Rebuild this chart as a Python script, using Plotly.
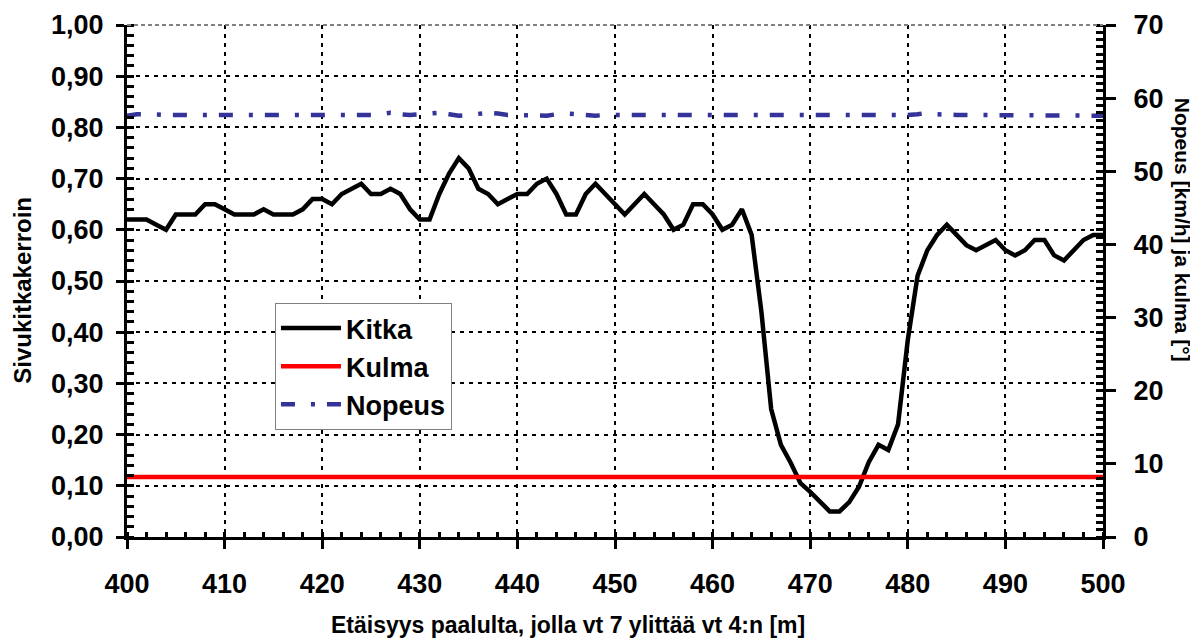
import plotly.graph_objects as go

distance = list(range(400, 501))

kitka = [0.62, 0.62, 0.62, 0.61, 0.60, 0.63, 0.63, 0.63, 0.65, 0.65,
         0.64, 0.63, 0.63, 0.63, 0.64, 0.63, 0.63, 0.63, 0.64, 0.66,
         0.66, 0.65, 0.67, 0.68, 0.69, 0.67, 0.67, 0.68, 0.67, 0.64,
         0.62, 0.62, 0.67, 0.71, 0.74, 0.72, 0.68, 0.67, 0.65, 0.66,
         0.67, 0.67, 0.69, 0.70, 0.67, 0.63, 0.63, 0.67, 0.69, 0.67,
         0.65, 0.63, 0.65, 0.67, 0.65, 0.63, 0.60, 0.61, 0.65, 0.65,
         0.63, 0.60, 0.61, 0.64, 0.59, 0.44, 0.25, 0.18, 0.145, 0.105,
         0.088, 0.068, 0.05, 0.05, 0.068, 0.098, 0.146, 0.18, 0.17, 0.22,
         0.385, 0.51, 0.56, 0.59, 0.61, 0.59, 0.57, 0.56, 0.57, 0.58,
         0.56, 0.55, 0.56, 0.58, 0.58, 0.55, 0.54, 0.56, 0.58, 0.59,
         0.59]

kulma = [8.2, 8.2, 8.2, 8.2, 8.2, 8.2, 8.2, 8.2, 8.2, 8.2,
         8.2, 8.2, 8.2, 8.2, 8.2, 8.2, 8.2, 8.2, 8.2, 8.2,
         8.2, 8.2, 8.2, 8.2, 8.2, 8.2, 8.2, 8.2, 8.2, 8.2,
         8.2, 8.2, 8.2, 8.2, 8.2, 8.2, 8.2, 8.2, 8.2, 8.2,
         8.2, 8.2, 8.2, 8.2, 8.2, 8.2, 8.2, 8.2, 8.2, 8.2,
         8.2, 8.2, 8.2, 8.2, 8.2, 8.2, 8.2, 8.2, 8.2, 8.2,
         8.2, 8.2, 8.2, 8.2, 8.2, 8.2, 8.2, 8.2, 8.2, 8.2,
         8.2, 8.2, 8.2, 8.2, 8.2, 8.2, 8.2, 8.2, 8.2, 8.2,
         8.2, 8.2, 8.2, 8.2, 8.2, 8.2, 8.2, 8.2, 8.2, 8.2,
         8.2, 8.2, 8.2, 8.2, 8.2, 8.2, 8.2, 8.2, 8.2, 8.2,
         8.2]

nopeus = [57.6, 57.8, 57.8, 57.7, 57.7, 57.7, 57.7, 57.7, 57.7, 57.7,
          57.7, 57.7, 57.7, 57.7, 57.6, 57.7, 57.7, 57.7, 57.7, 57.7,
          57.7, 57.7, 57.7, 57.7, 57.7, 57.7, 57.8, 58.0, 57.8, 57.7,
          57.8, 57.9, 58.0, 57.8, 57.6, 57.7, 57.8, 58.0, 57.9, 57.7,
          57.7, 57.7, 57.7, 57.6, 57.8, 57.9, 57.8, 57.7, 57.6, 57.7,
          57.7, 57.7, 57.7, 57.7, 57.7, 57.7, 57.7, 57.6, 57.7, 57.7,
          57.7, 57.7, 57.6, 57.6, 57.7, 57.7, 57.7, 57.7, 57.6, 57.7,
          57.7, 57.7, 57.7, 57.7, 57.7, 57.7, 57.7, 57.7, 57.7, 57.7,
          57.7, 57.8, 58.0, 57.8, 57.7, 57.7, 57.7, 57.7, 57.7, 57.7,
          57.7, 57.7, 57.7, 57.7, 57.7, 57.7, 57.7, 57.7, 57.7, 57.6,
          57.6]

x_title = "Etäisyys paalulta, jolla vt 7 ylittää vt 4:n [m]"
y_title = "Sivukitkakerroin"
y2_title = "Nopeus [km/h] ja kulma [°]"

FONT = "Liberation Sans, Arial, sans-serif"
tickf = dict(family=FONT, size=27, color="black", weight="bold")
legf = dict(family=FONT, size=27, color="black", weight="bold")
titlef = dict(family=FONT, size=23, color="black", weight="bold")
ytitlef = dict(family=FONT, size=24, color="black", weight="bold")
y2titlef = dict(family=FONT, size=21, color="black", weight="bold")

fig = go.Figure()
fig.add_trace(go.Scatter(x=distance, y=kitka, name="Kitka", mode="lines",
                         line=dict(color="black", width=4.5), legendgroup="a"))
fig.add_trace(go.Scatter(x=distance, y=kulma, name="Kulma", mode="lines", yaxis="y2",
                         line=dict(color="#FF0000", width=4.5), legendgroup="b"))
fig.add_trace(go.Scatter(x=distance, y=nopeus, name="Nopeus", mode="lines", yaxis="y2",
                         line=dict(color="#333399", width=4.5, dash="14px,16px,4px,12px"),
                         legendgroup="c"))

grid = dict(showgrid=True, gridcolor="black", gridwidth=2, griddash="4px,5px")

fig.update_layout(
    width=1190, height=632,
    margin=dict(l=119, r=95, t=17, b=103, autoexpand=False),
    paper_bgcolor="white", plot_bgcolor="white",
    separators=", ",
    font=tickf,
    showlegend=True,
    legend=dict(x=0.1516, y=0.457, xanchor="left", yanchor="top",
                bgcolor="white", bordercolor="#808080", borderwidth=1,
                font=legf, tracegroupgap=0, itemwidth=60),
    xaxis=dict(range=[400, 500], dtick=10, tick0=400, **grid, automargin=False,
               showline=True, linecolor="black", linewidth=3,
               ticks="outside", ticklen=9, tickwidth=3, tickcolor="black",
               minor=dict(dtick=2, ticks="inside", ticklen=5, tickwidth=3, tickcolor="black", showgrid=False),
               tickfont=tickf, ticklabelstandoff=12, zeroline=False),
    yaxis=dict(range=[0, 1], dtick=0.1, tick0=0, tickformat=".2f", **grid, automargin=False,
               showline=True, linecolor="black", linewidth=3,
               ticks="outside", ticklen=8, tickwidth=3, tickcolor="black",
               minor=dict(dtick=0.02, ticks="inside", ticklen=7, tickwidth=3, tickcolor="black", showgrid=False),
               tickfont=tickf, ticklabelstandoff=7, zeroline=False),
    yaxis2=dict(range=[0, 70], dtick=10, tick0=0, overlaying="y", side="right", automargin=False,
                showgrid=False, showline=True, linecolor="black", linewidth=3,
                ticks="outside", ticklen=10, tickwidth=3, tickcolor="black",
                minor=dict(dtick=1, ticks="inside", ticklen=7, tickwidth=3, tickcolor="black", showgrid=False),
                tickfont=tickf, ticklabelstandoff=12, zeroline=False),
    annotations=[
        dict(text=x_title, font=titlef, xref="paper", yref="paper", x=0.452, y=-0.172,
             xanchor="center", yanchor="middle", showarrow=False),
        dict(text=y_title, textangle=-90, font=ytitlef, xref="paper", yref="paper",
             x=-0.107, y=0.482, xanchor="center", yanchor="middle", showarrow=False),
        dict(text=y2_title, textangle=90, font=y2titlef, xref="paper", yref="paper",
             x=1.081, y=0.6, xanchor="center", yanchor="middle", showarrow=False),
    ],
    shapes=[dict(type="line", xref="paper", yref="paper", x0=0, x1=1, y0=1, y1=1,
                 line=dict(color="#808080", width=2, dash="4px,3px"))],
)

fig.write_html("out.html")
